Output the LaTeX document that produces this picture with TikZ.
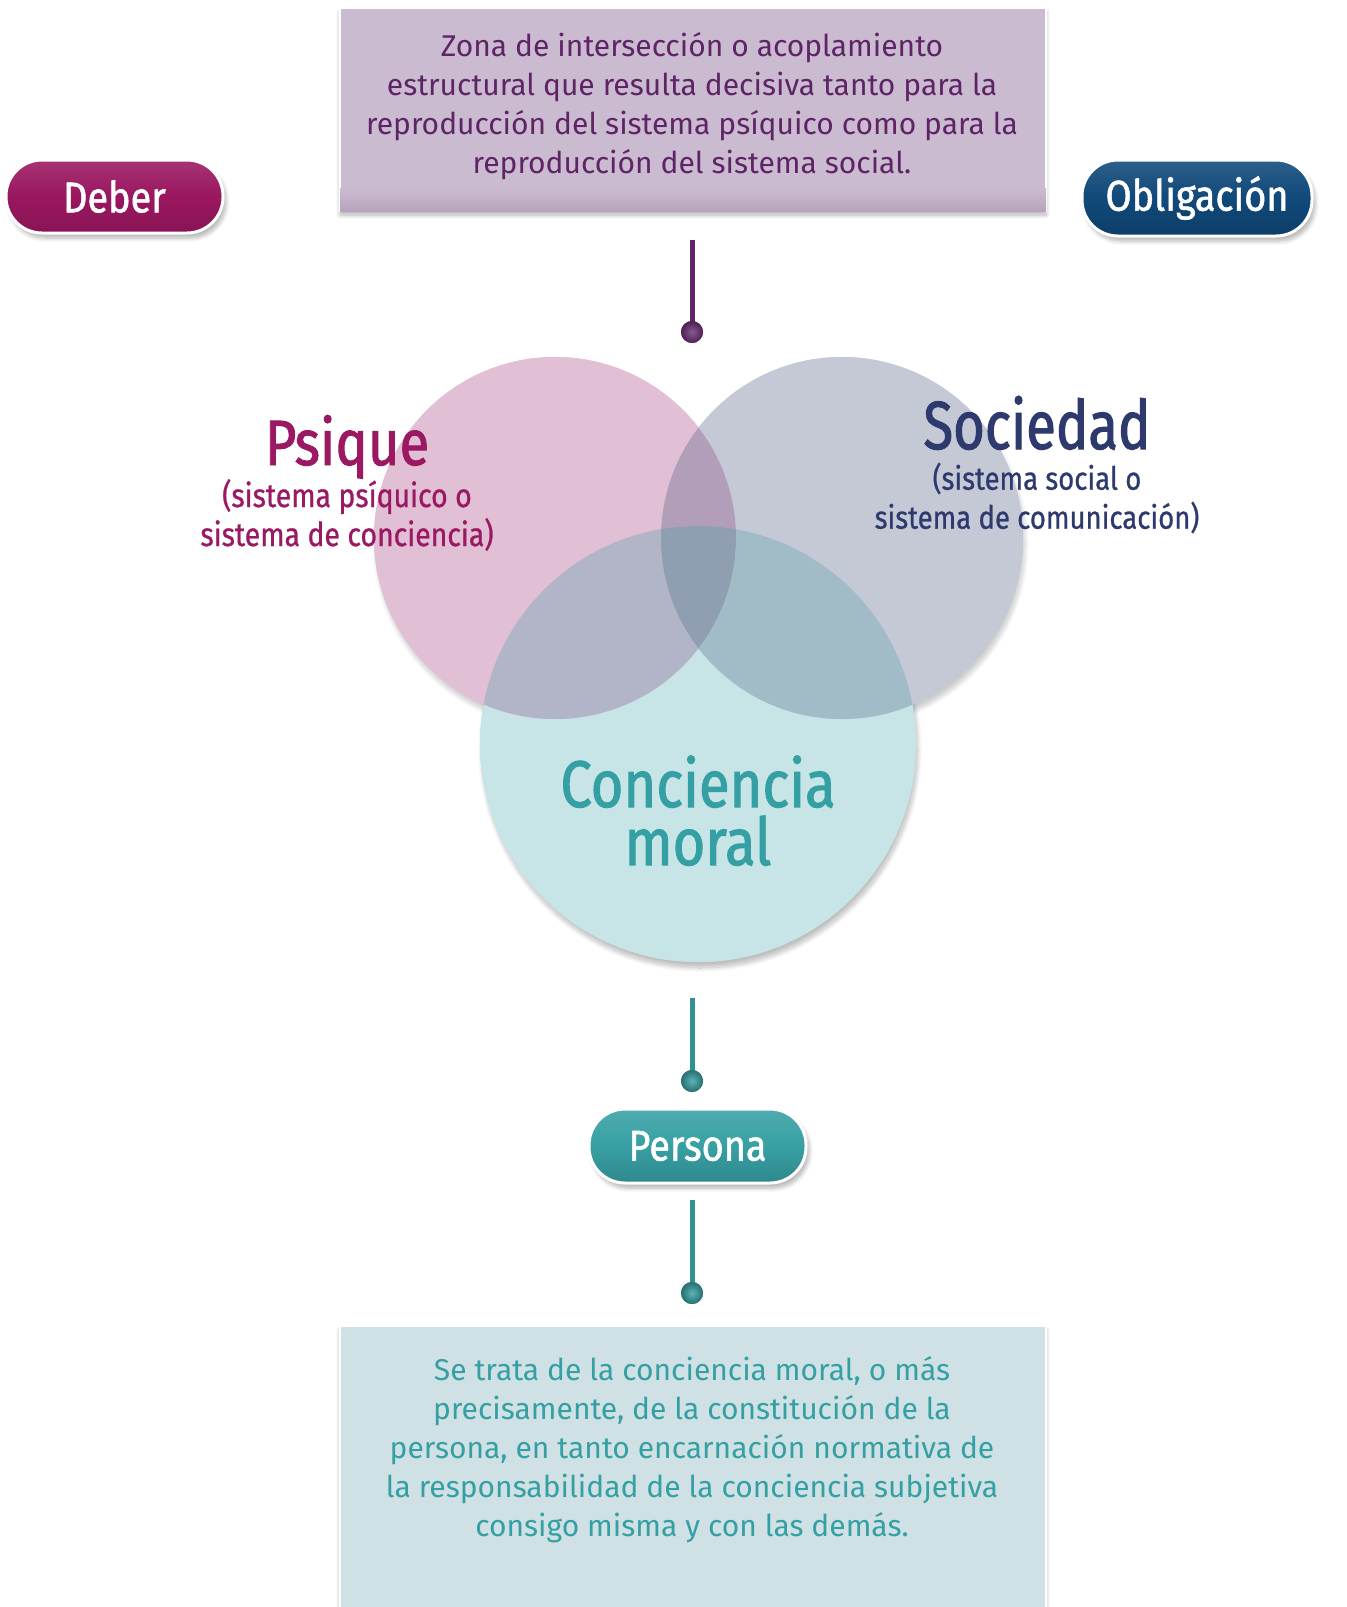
\documentclass[tikz,border=0pt]{standalone}
\usepackage{fontspec}
\setmainfont{Fira Sans}
\newfontfamily\titlefont{Fira Sans}[FakeStretch=0.85,FakeBold=1.5]
\newfontfamily\soctitlefont{Fira Sans}[FakeStretch=0.8,FakeBold=1.5]
\newfontfamily\btnfont{Fira Sans}[FakeStretch=0.88,FakeBold=1.2]
\newfontfamily\subfont{Fira Sans}[FakeStretch=0.86,FakeBold=0.8]
\usetikzlibrary{shadows.blur}
\definecolor{mag}{HTML}{9B1862}
\definecolor{navy}{HTML}{2E3A6E}
\definecolor{tealt}{HTML}{35A0A3}
\definecolor{purp}{HTML}{5E2466}
\definecolor{boxP}{HTML}{CBBBD0}
\definecolor{boxPd}{HTML}{B8A3BE}
\definecolor{boxT}{HTML}{CFE1E4}
\definecolor{boxTd}{HTML}{BCD5D9}
\definecolor{obl}{HTML}{10497A}
\definecolor{deb}{HTML}{9A1760}
\definecolor{per}{HTML}{37A0A4}
\definecolor{cA}{HTML}{E1BFD5}
\definecolor{cB}{HTML}{C5C9D6}
\definecolor{cC}{HTML}{C7E4E7}
\definecolor{cAB}{HTML}{B29EB9}
\definecolor{cAC}{HTML}{B2B4C7}
\definecolor{cBC}{HTML}{A2BCC7}
\definecolor{cABC}{HTML}{8F9EB1}
\definecolor{tline}{HTML}{2E9297}
\tikzset{
  btn/.style={rounded corners=18pt, draw=white, line width=1.5pt, text=white,
    font=\btnfont\fontsize{21.5}{24}\selectfont, inner sep=0pt,
    blur shadow={shadow xshift=1.5pt,shadow yshift=-2.5pt,shadow opacity=30,shadow blur steps=8}},
  infobox/.style={draw=white, line width=1.2pt, inner sep=0pt,
    blur shadow={shadow xshift=0pt,shadow yshift=-2pt,shadow opacity=30,shadow blur steps=8}},
  body/.style={align=center, font=\fontsize{15}{19.5}\selectfont, inner sep=0pt},
  dotball/.style={circle, inner sep=0pt, minimum size=11pt},
  stem/.style={line width=2.5pt},
}
\begin{document}
\begin{tikzpicture}[x=0.5pt,y=-0.5pt]
% top box
\node[infobox, minimum width=353pt, minimum height=101.5pt, fill=boxP] (topbox) at (693,109.5) {};
\fill[top color=boxP, bottom color=boxPd] ([shift={(1.2,-24)}]topbox.south west) rectangle ([shift={(-1.2,-1.2)}]topbox.south east);
\node[body, text=purp] (toptext) at (692,106) {Zona de intersección o acoplamiento\\estructural que resulta decisiva tanto para la\\reproducción del sistema psíquico como para la\\reproducción del sistema social.};
% buttons
\node[btn, minimum width=108.5pt, minimum height=36.5pt, top color=deb!88!white, bottom color=deb!88!black, middle color=deb] (deber) at (114.5,196.5) {Deber};
\node[btn, minimum width=115pt, minimum height=38pt, top color=obl!88!white, bottom color=obl!85!black, middle color=obl] (oblig) at (1197,198) {Obligación};
% top connector
\coordinate (t1) at (692,240);
\node[dotball, inner color=purp!75!white, outer color=purp!85!black] (tdot) at (692,332) {};
\draw[stem, purp] (t1) -- (tdot.center);
\node[dotball, inner color=purp!75!white, outer color=purp!85!black] at (tdot) {};
% circles
\path[blur shadow={shadow xshift=1pt,shadow yshift=-3pt,shadow opacity=25,shadow blur steps=10}, fill=cC] (698,744) circle[radius=218];
\path[blur shadow={shadow xshift=1pt,shadow yshift=-3pt,shadow opacity=20,shadow blur steps=10}, fill=cA] (555,538) circle[radius=181];
\path[blur shadow={shadow xshift=1pt,shadow yshift=-3pt,shadow opacity=20,shadow blur steps=10}, fill=cB] (842,538) circle[radius=181];
\fill[cC] (698,744) circle[radius=218];
\fill[cA] (555,538) circle[radius=181];
\fill[cB] (842,538) circle[radius=181];
\begin{scope}
  \clip (555,538) circle[radius=181];
  \fill[cAB] (842,538) circle[radius=181];
  \fill[cAC] (698,744) circle[radius=218];
  \clip (842,538) circle[radius=181];
  \fill[cABC] (698,744) circle[radius=218];
\end{scope}
\begin{scope}
  \clip (842,538) circle[radius=181];
  \clip (698,744) circle[radius=218];
  \fill[cBC] (555,538) circle[radius=181] [even odd rule] (0,0) rectangle (1346,1607);
\end{scope}
% labels
\node[anchor=base, text=mag, font=\titlefont\fontsize{32}{36}\selectfont, inner sep=0pt] (psique) at (347,465) {Psique};
\node[align=center, text=mag, font=\subfont\fontsize{16.5}{19.5}\selectfont, inner sep=0pt] (psiqsub) at (347,515) {(sistema psíquico o\\sistema de conciencia)};
\node[anchor=base, text=navy, font=\soctitlefont\fontsize{34}{38}\selectfont, inner sep=0pt] (soc) at (1037,449) {Sociedad};
\node[align=center, text=navy, font=\subfont\fontsize{16}{19.5}\selectfont, inner sep=0pt] (socsub) at (1037,498) {(sistema social o\\sistema de comunicación)};
\node[anchor=base, text=tealt, font=\titlefont\fontsize{33}{36}\selectfont, inner sep=0pt] (conc1) at (698,807) {Conciencia};
\node[anchor=base, text=tealt, font=\titlefont\fontsize{33}{36}\selectfont, inner sep=0pt] (conc2) at (698,865) {moral};
% lower connector
\coordinate (b1) at (692,998);
\node[dotball, inner color=tealt!80!white, outer color=tealt!70!black] (bdot) at (692,1081) {};
\draw[stem, tline] (b1) -- (bdot.center);
\node[dotball, inner color=tealt!80!white, outer color=tealt!70!black] at (bdot) {};
\node[btn, minimum width=108.5pt, minimum height=37pt, top color=per!88!white, bottom color=per!85!black, middle color=per] (persona) at (697.5,1146) {Persona};
\coordinate (c1) at (692,1200);
\node[dotball, inner color=tealt!80!white, outer color=tealt!70!black] (cdot) at (692,1293) {};
\draw[stem, tline] (c1) -- (cdot.center);
\node[dotball, inner color=tealt!80!white, outer color=tealt!70!black] at (cdot) {};
% bottom box
\node[infobox, minimum width=353pt, minimum height=150pt, fill=boxT] (botbox) at (693,1476) {};
\node[body, text=tealt] (bottext) at (692,1450) {Se trata de la conciencia moral, o más\\precisamente, de la constitución de la\\persona, en tanto encarnación normativa de\\la responsabilidad de la conciencia subjetiva\\consigo misma y con las demás.};
\pgfresetboundingbox
\path[use as bounding box] (0,0) rectangle (1346,1607);
\end{tikzpicture}
\end{document}
